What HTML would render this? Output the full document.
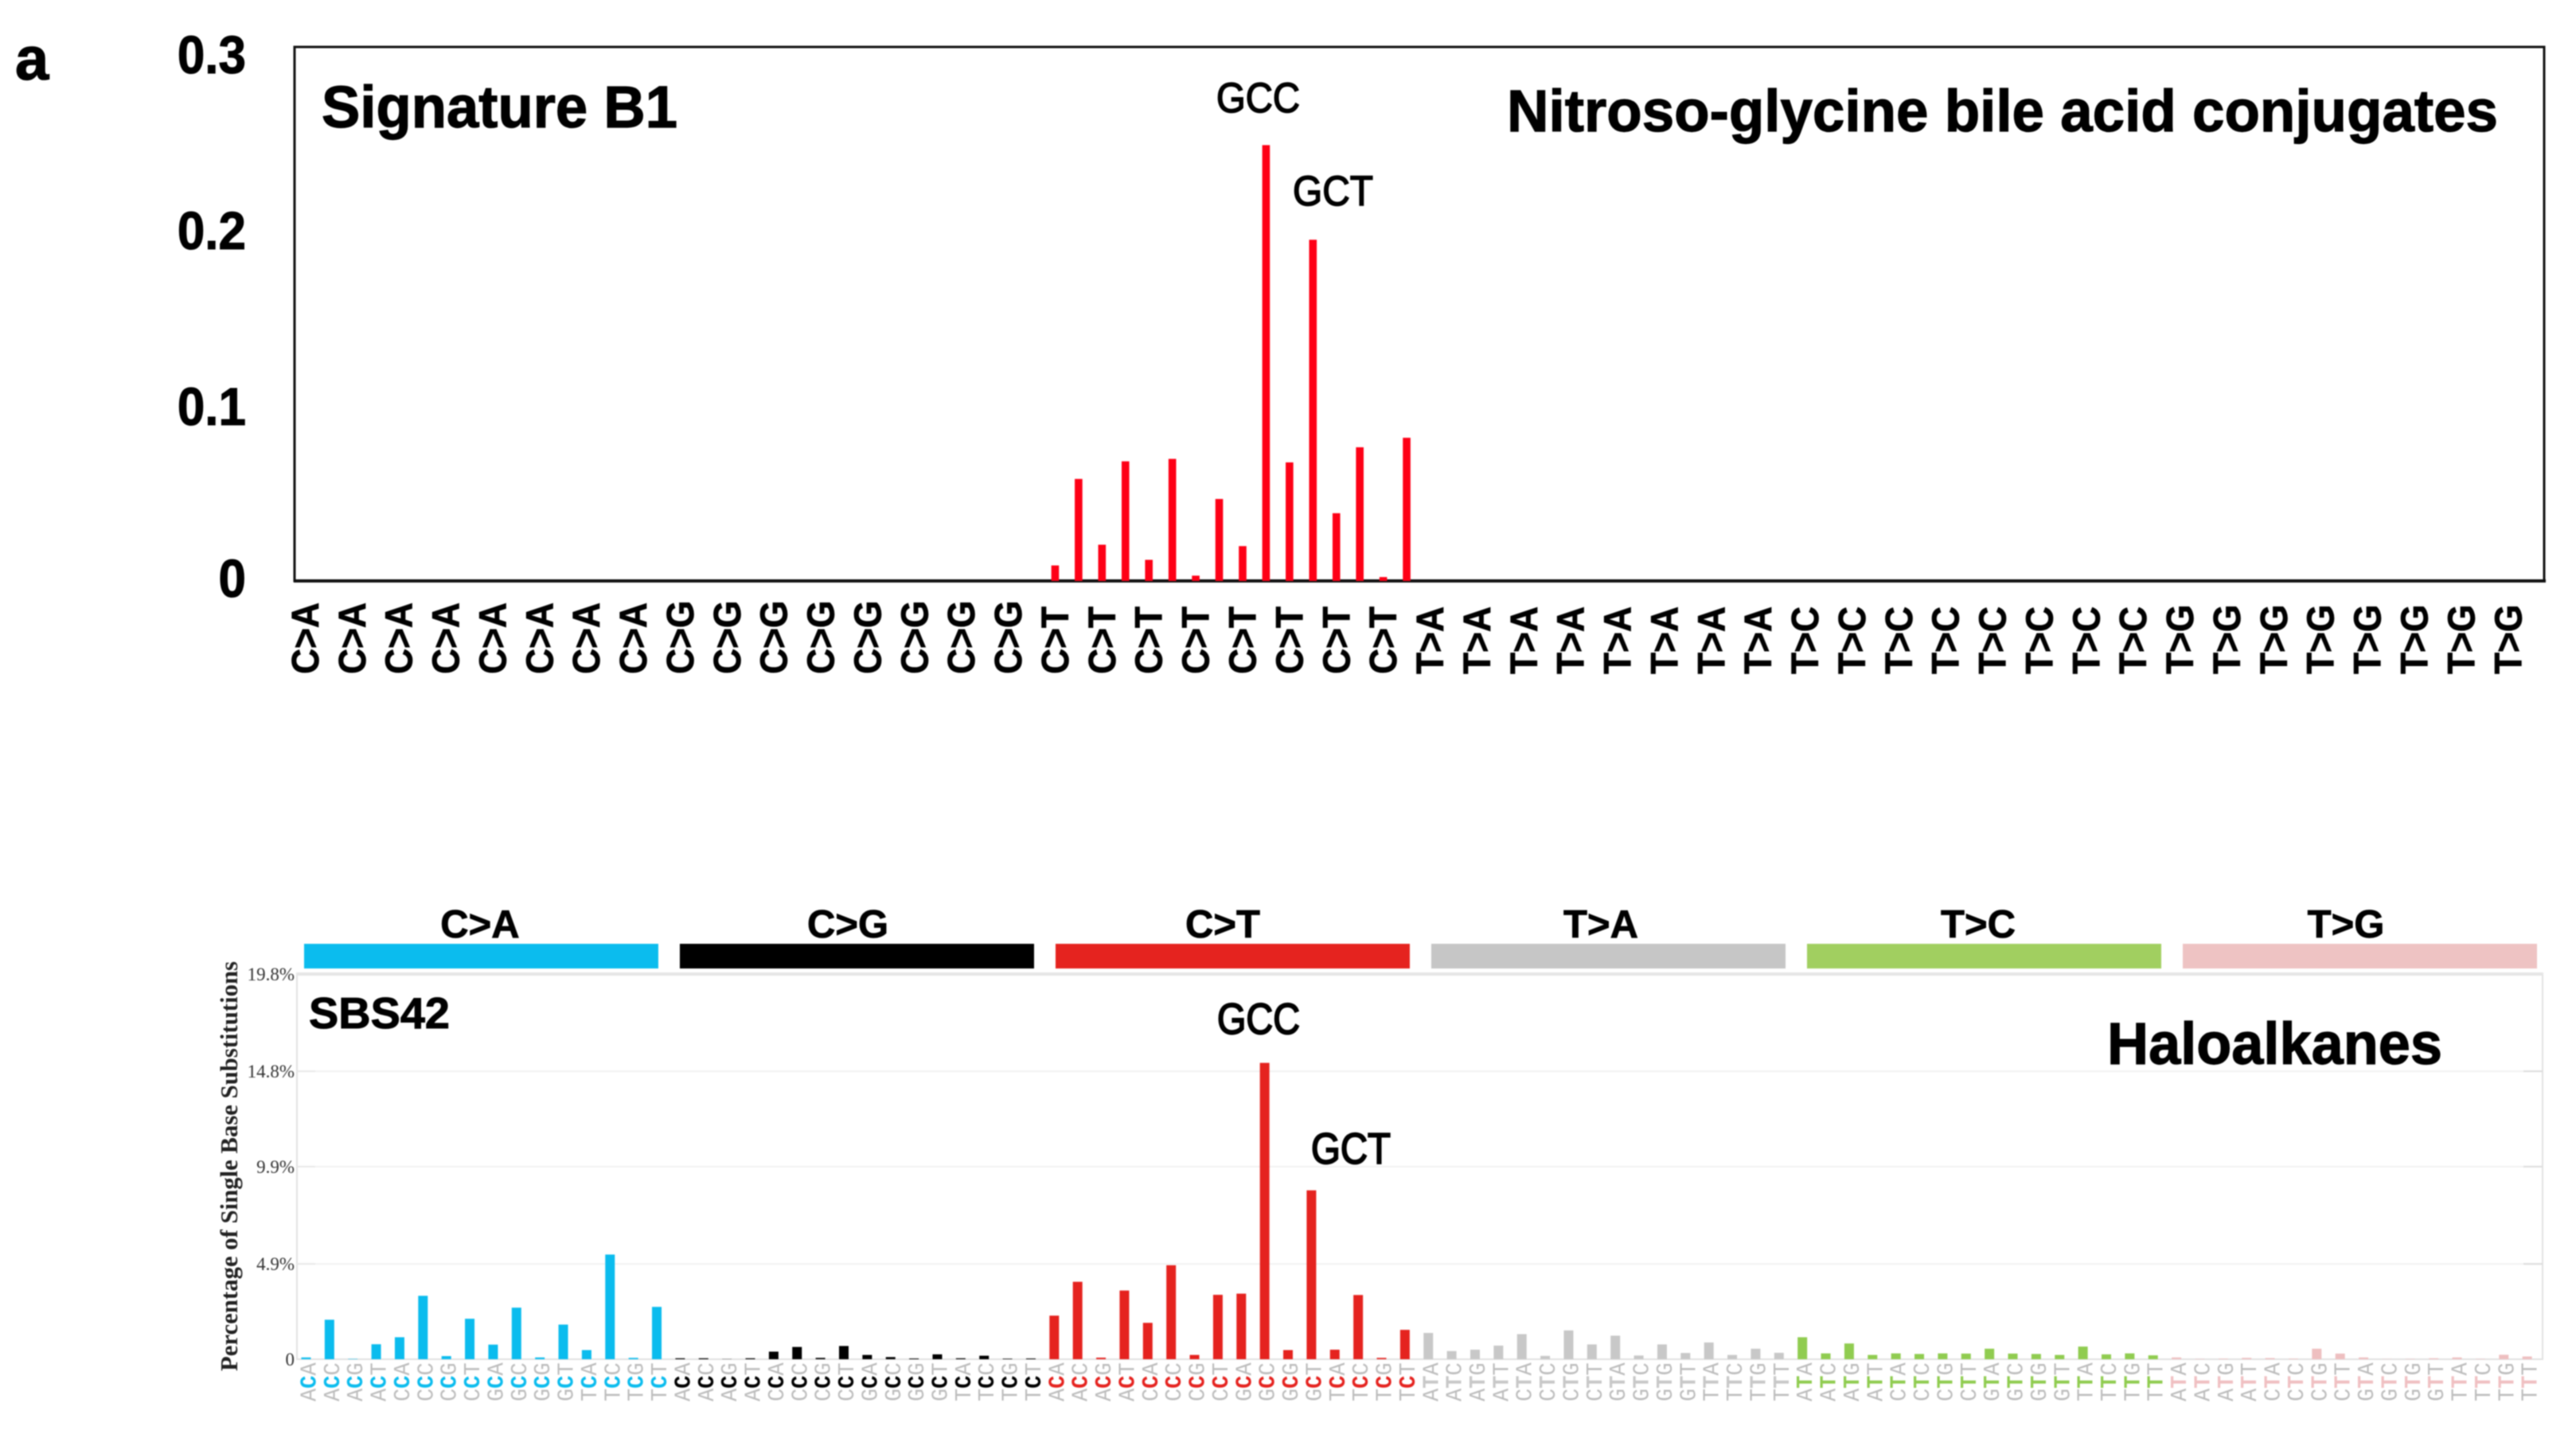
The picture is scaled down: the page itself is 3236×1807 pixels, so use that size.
<!DOCTYPE html>
<html lang="en">
<head>
<meta charset="utf-8">
<title>Signature B1 and SBS42 trinucleotide profiles</title>
<style>
html,body{margin:0;padding:0;background:#fff;width:3236px;height:1807px;overflow:hidden}
svg{display:block;filter:blur(0.9px)}
.sans{font-family:"Liberation Sans",Arial,sans-serif}
.serif{font-family:"Liberation Serif","Times New Roman",serif}
.mono{font-family:"Liberation Mono","Courier New",monospace}
</style>
</head>
<body>
<svg id="figure" xmlns="http://www.w3.org/2000/svg" width="3236" height="1807" viewBox="0 0 3236 1807">
  <rect x="0" y="0" width="3236" height="1807" fill="#ffffff"/>
  <text class="sans" x="19" y="100" font-size="76" font-weight="700" stroke="#000" stroke-width="1.2" fill="#000">a</text>

  <!-- Top panel -->
  <g id="top-panel">
    <rect x="370" y="59" width="2826" height="671" fill="none" stroke="#111" stroke-width="3"/>
    <line x1="369" y1="730" x2="3198" y2="730" stroke="#111" stroke-width="4"/>
    <g id="top-ticks"></g>
    <g id="top-bars"></g>
    <g id="top-x-labels"></g>
    <text class="sans" x="404" y="160" font-size="74" font-weight="700" stroke="#000" stroke-width="1.2" textLength="447" lengthAdjust="spacingAndGlyphs" fill="#000">Signature B1</text>
    <text class="sans" x="1893" y="165" font-size="74" font-weight="700" stroke="#000" stroke-width="1.2" textLength="1245" lengthAdjust="spacingAndGlyphs" fill="#000">Nitroso-glycine bile acid conjugates</text>
    <text class="sans" x="1528" y="141" font-size="53" font-weight="400" stroke="#000" stroke-width="1.6" textLength="105" lengthAdjust="spacingAndGlyphs" fill="#000">GCC</text>
    <text class="sans" x="1624" y="258" font-size="53" font-weight="400" stroke="#000" stroke-width="1.6" textLength="101" lengthAdjust="spacingAndGlyphs" fill="#000">GCT</text>
  </g>

  <!-- Bottom panel -->
  <g id="bottom-panel">
    <g id="category-strip"></g>
    <rect x="373" y="1224" width="2821" height="484" fill="none" stroke="#e2e2e2" stroke-width="2"/>
    <line x1="372" y1="1224" x2="3195" y2="1224" stroke="#e6e6e6" stroke-width="4"/>
    <g id="bottom-grid"></g>
    <g id="bottom-bars"></g>
    <g id="bottom-x-labels"></g>
    <text class="serif" transform="translate(298 1723) rotate(-90)" font-size="31" font-weight="700" textLength="515" lengthAdjust="spacingAndGlyphs" fill="#222">Percentage of Single Base Substitutions</text>
    <text class="sans" x="388" y="1292" font-size="55" font-weight="700" stroke="#000" stroke-width="1" textLength="177" lengthAdjust="spacingAndGlyphs" fill="#000">SBS42</text>
    <text class="sans" x="2647" y="1337" font-size="74" font-weight="700" stroke="#000" stroke-width="1.2" textLength="421" lengthAdjust="spacingAndGlyphs" fill="#000">Haloalkanes</text>
    <text class="sans" x="1529" y="1299" font-size="55" font-weight="400" stroke="#000" stroke-width="2" textLength="104" lengthAdjust="spacingAndGlyphs" fill="#000">GCC</text>
    <text class="sans" x="1647" y="1462" font-size="55" font-weight="400" stroke="#000" stroke-width="2" textLength="100" lengthAdjust="spacingAndGlyphs" fill="#000">GCT</text>
  </g>
</svg>

<script>
var mutationTypes = ["C>A", "C>G", "C>T", "T>A", "T>C", "T>G"];
var contexts5 = ["A", "C", "G", "T"];
var contexts3 = ["A", "C", "G", "T"];
var topTickValues = [0, 0.1, 0.2, 0.3];
var topTickLabels = ["0", "0.1", "0.2", "0.3"];
var bottomTickValues = [0, 4.9, 9.9, 14.8, 19.8];
var bottomTickLabels = ["0", "4.9%", "9.9%", "14.8%", "19.8%"];

var topCtoA = [0, 0, 0, 0, 0, 0, 0, 0, 0, 0, 0, 0, 0, 0, 0, 0];
var topCtoG = [0, 0, 0, 0, 0, 0, 0, 0, 0, 0, 0, 0, 0, 0, 0, 0];
var topCtoT = [0.0088, 0.058, 0.0206, 0.068, 0.012, 0.0694, 0.003, 0.0466, 0.0198, 0.2478, 0.0674, 0.194, 0.0385, 0.076, 0.0022, 0.0814];
var topTtoA = [0, 0, 0, 0, 0, 0, 0, 0, 0, 0, 0, 0, 0, 0, 0, 0];
var topTtoC = [0, 0, 0, 0, 0, 0, 0, 0, 0, 0, 0, 0, 0, 0, 0, 0];
var topTtoG = [0, 0, 0, 0, 0, 0, 0, 0, 0, 0, 0, 0, 0, 0, 0, 0];

var sbsCtoA = [0.09, 2.03, 0.02, 0.77, 1.13, 3.26, 0.16, 2.08, 0.75, 2.65, 0.09, 1.78, 0.47, 5.38, 0.07, 2.69];
var sbsCtoG = [0.05, 0.05, 0.01, 0.05, 0.39, 0.63, 0.07, 0.68, 0.22, 0.11, 0.04, 0.25, 0.05, 0.18, 0.03, 0.04];
var sbsCtoT = [2.24, 3.98, 0.08, 3.53, 1.87, 4.83, 0.22, 3.31, 3.37, 15.23, 0.47, 8.68, 0.49, 3.3, 0.07, 1.51];
var sbsTtoA = [1.35, 0.42, 0.49, 0.7, 1.29, 0.17, 1.48, 0.76, 1.21, 0.19, 0.76, 0.32, 0.86, 0.22, 0.54, 0.33];
var sbsTtoC = [1.13, 0.3, 0.81, 0.22, 0.3, 0.27, 0.3, 0.29, 0.54, 0.29, 0.27, 0.22, 0.65, 0.25, 0.3, 0.2];
var sbsTtoG = [0.09, 0.02, 0.03, 0.07, 0.06, 0.03, 0.54, 0.29, 0.09, 0.01, 0.02, 0.05, 0.09, 0.02, 0.23, 0.14];

var SVGNS = "http://www.w3.org/2000/svg";
function make(tag, parent) {
  var el = document.createElementNS(SVGNS, tag);
  parent.appendChild(el);
  return el;
}
function topX(i) { return 383.4 + i * 29.44; }
function topY(v) { return 730 - v * 2210; }
function bottomX(i) { return 384.5 + i * 29.37; }
function bottomY(v) { return 1708 - v * 24.45; }
function contextName(i) {
  var k = i % 16;
  var mut = mutationTypes[Math.floor(i / 16)];
  return contexts5[Math.floor(k / 4)] + mut.charAt(0) + contexts3[k % 4];
}

var stripColors = ["#0bbcee", "#000000", "#e5231f", "#c6c6c6", "#a1cf60", "#eec3c3"];
var barColors = ["#0bbcee", "#000000", "#e5231f", "#c8c8c8", "#90cc50", "#eebfc0"];
var midColors = ["#0bbcee", "#000000", "#e5231f", "#c8c8c8", "#90cc50", "#f0c0c2"];
var stripLabelCenters = [603, 1065, 1536, 2011, 2485, 2947];

var topSeries = topCtoA.concat(topCtoG, topCtoT, topTtoA, topTtoC, topTtoG);
var sbsSeries = sbsCtoA.concat(sbsCtoG, sbsCtoT, sbsTtoA, sbsTtoC, sbsTtoG);

/* top ticks */
var topTicksG = document.getElementById("top-ticks");
topTickValues.forEach(function (v, i) {
  var t = make("text", topTicksG);
  
  
  t.setAttribute("class", "sans");
  t.setAttribute("transform", "translate(309 " + (topY(v) + (v === 0 ? 20 : 25)) + ") scale(1 1.08)");
  t.setAttribute("text-anchor", "end");
  t.setAttribute("font-size", 62);
  t.setAttribute("font-weight", 700);
  t.setAttribute("stroke", "#000");
  t.setAttribute("stroke-width", 1);
  t.setAttribute("fill", "#000");
  t.textContent = topTickLabels[i];
});

/* top bars */
var topBarsG = document.getElementById("top-bars");
topSeries.forEach(function (v, i) {
  if (v <= 0) return;
  var r = make("rect", topBarsG);
  
  
  r.setAttribute("x", topX(i) - 4.8);
  r.setAttribute("y", topY(v));
  r.setAttribute("width", 9.6);
  r.setAttribute("height", topY(0) - topY(v));
  r.setAttribute("fill", "#fe0016");
});

/* top x labels: one per second bar */
var topLabelsG = document.getElementById("top-x-labels");
topSeries.forEach(function (v, i) {
  if (i % 2 !== 0) return;
  var t = make("text", topLabelsG);
  
  
  t.setAttribute("class", "sans");
  t.setAttribute("transform", "translate(" + (topX(i) + 16.5) + " 847) rotate(-90) scale(1.03 1.13)");
  t.setAttribute("font-size", 43);
  t.setAttribute("font-weight", 700);
  t.setAttribute("stroke", "#000");
  t.setAttribute("stroke-width", 0.7);
  t.setAttribute("fill", "#000");
  t.textContent = mutationTypes[Math.floor(i / 16)];
});

/* category strip */
var stripG = document.getElementById("category-strip");
mutationTypes.forEach(function (m, i) {
  var r = make("rect", stripG);
  
  
  r.setAttribute("x", 382 + i * 472);
  r.setAttribute("y", 1186);
  r.setAttribute("width", 445);
  r.setAttribute("height", 31);
  r.setAttribute("fill", stripColors[i]);
  var t = make("text", stripG);
  
  
  t.setAttribute("class", "sans");
  t.setAttribute("x", stripLabelCenters[i]);
  t.setAttribute("y", 1178);
  t.setAttribute("text-anchor", "middle");
  t.setAttribute("font-size", 49);
  t.setAttribute("font-weight", 700);
  t.setAttribute("stroke", "#000");
  t.setAttribute("stroke-width", 0.8);
  t.setAttribute("fill", "#000");
  t.textContent = m;
});

/* bottom grid + ticks */
var gridG = document.getElementById("bottom-grid");
bottomTickValues.forEach(function (v, i) {
  var y = bottomY(v);
  if (v > 0 && i < bottomTickValues.length - 1) {
    var g = make("line", gridG);
    
    
    g.setAttribute("x1", 373);
    g.setAttribute("x2", 3194);
    g.setAttribute("y1", y);
    g.setAttribute("y2", y);
    g.setAttribute("stroke", "#f2f2f2");
    g.setAttribute("stroke-width", 2);
    var tl = make("line", gridG);
    
    
    tl.setAttribute("x1", 373);
    tl.setAttribute("x2", 396);
    tl.setAttribute("y1", y);
    tl.setAttribute("y2", y);
    tl.setAttribute("stroke", "#e8e8e8");
    tl.setAttribute("stroke-width", 2);
    var tr = make("line", gridG);
    
    
    tr.setAttribute("x1", 3170);
    tr.setAttribute("x2", 3194);
    tr.setAttribute("y1", y);
    tr.setAttribute("y2", y);
    tr.setAttribute("stroke", "#dcdcdc");
    tr.setAttribute("stroke-width", 2);
  }
  var t = make("text", gridG);
  
  
  t.setAttribute("class", "serif");
  t.setAttribute("x", 370);
  t.setAttribute("y", y + 8);
  t.setAttribute("text-anchor", "end");
  t.setAttribute("font-size", 23);
  t.setAttribute("fill", "#333");
  t.textContent = bottomTickLabels[i];
});

/* bottom bars */
var bottomBarsG = document.getElementById("bottom-bars");
sbsSeries.forEach(function (v, i) {
  var r = make("rect", bottomBarsG);
  
  
  r.setAttribute("x", bottomX(i) - 6);
  r.setAttribute("y", bottomY(v));
  r.setAttribute("width", 12);
  r.setAttribute("height", bottomY(0) - bottomY(v));
  r.setAttribute("fill", barColors[Math.floor(i / 16)]);
});

/* bottom x labels */
var bottomLabelsG = document.getElementById("bottom-x-labels");
sbsSeries.forEach(function (v, i) {
  var name = contextName(i);
  var group = Math.floor(i / 16);
  var t = make("text", bottomLabelsG);
  
  
  t.setAttribute("class", "mono");
  t.setAttribute("transform", "translate(" + (bottomX(i) + 12) + " 1761) rotate(-90) scale(1.04 1.12)");
  t.setAttribute("font-size", 26);
  t.setAttribute("fill", "#bdbdbd");
  var a = make("tspan", t);
  a.textContent = name.charAt(0);
  var b = make("tspan", t);
  b.setAttribute("fill", midColors[group]);
  b.setAttribute("font-weight", 700);
  b.textContent = name.charAt(1);
  var c = make("tspan", t);
  c.textContent = name.charAt(2);
});
</script>
</body>
</html>
